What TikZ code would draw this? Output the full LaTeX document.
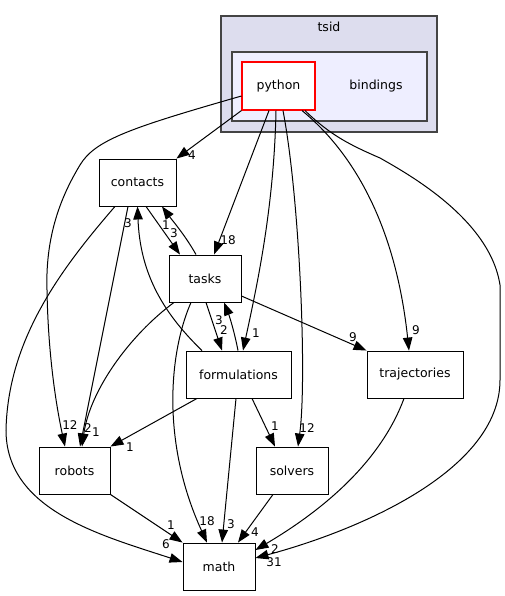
\documentclass[tikz,border=0pt]{standalone}
\usepackage{fontspec}
\setmainfont{DejaVu Sans}
\usetikzlibrary{arrows.meta}
\definecolor{outerfill}{HTML}{DDDDEE}
\definecolor{innerfill}{HTML}{EEEEFF}
\definecolor{frame}{HTML}{444444}
\tikzset{dr/.style = {rectangle, draw, fill=white, line width=0.9pt, minimum height=47pt, inner sep=0pt, font=\fontsize{12.5}{15}\selectfont},
         cur/.style = {dr, draw=red, line width=1.1pt, text=black},
         cl/.style = {rectangle, draw=frame, line width=1.4pt, inner sep=0pt},
         tx/.style = {inner sep=0pt, font=\fontsize{12.5}{15}\selectfont},
         lb/.style = {inner sep=0pt, font=\fontsize{12}{14}\selectfont}}

\begin{document}
\begin{tikzpicture}[x=1pt, y=-1pt, line width=1pt, >={Triangle[length=13pt, width=9.5pt]}]
    \useasboundingbox (0,0) rectangle (505,596);
    \node[cl, fill=outerfill, minimum width=216pt, minimum height=116pt] (tsid) at (329,74) {};
    \node[tx] (tsidtext) at (329,27) {tsid};
    \node[cl, fill=innerfill, minimum width=195pt, minimum height=69pt] (bindings) at (329.5,86.5) {};
    \node[tx] (bindingstext) at (376,86) {bindings};
    \node[cur, minimum width=73pt, minimum height=48pt] (python) at (278.5,86) {python};
    \node[dr, minimum width=77pt] (contacts) at (137.5,182.5) {contacts};
    \node[dr, minimum width=72pt] (tasks) at (205,278.5) {tasks};
    \node[dr, minimum width=105pt] (formulations) at (238.5,374.5) {formulations};
    \node[dr, minimum width=96pt] (trajectories) at (415,374.5) {trajectories};
    \node[dr, minimum width=71pt] (robots) at (74.5,470.5) {robots};
    \node[dr, minimum width=72pt] (solvers) at (292,470.5) {solvers};
    \node[dr, minimum width=72pt] (math) at (219,566.5) {math};
    \draw[->] (python.south west) -- (contacts.north east) node[lb] at (192,155) {4};
    \draw[->] ([yshift=-10pt]python.west) .. controls (130,128) and (95,140) .. (80,165) .. controls (65,190) and (45,230) .. (47,290) .. controls (48,350) and (55,400) .. ([xshift=-9.5pt]robots.north) node[lb] at (70,425) {12};
    \draw[->] ([xshift=-9.5pt]python.south) -- ([xshift=9pt]tasks.north) node[lb] at (228,240) {18};
    \draw[->] ([xshift=-2.5pt]python.south) .. controls (274,210) and (256,290) .. ([xshift=4.5pt]formulations.north) node[lb] at (256,333) {1};
    \draw[->] ([xshift=4.5pt]python.south) .. controls (300,200) and (307,380) .. ([xshift=6pt]solvers.north) node[lb] at (307,428) {12};
    \draw[->] ([xshift=23.5pt]python.south) .. controls (350,150) and (395,220) .. ([xshift=-6pt]trajectories.north) node[lb] at (416,330) {9};
    \draw[->] ([xshift=26.5pt]python.south) .. controls (330,135) and (350,145) .. (380,158) .. controls (410,175) and (490,220) .. (500,285) -- (500,380) .. controls (500,470) and (360,530) .. ([yshift=8.5pt]math.east) node[lb] at (274,562) {31};
    \draw[->] ([xshift=8.5pt]contacts.south) -- ([xshift=-25pt]tasks.north) node[lb] at (174,233) {3};
    \draw[->] ([xshift=-9pt]tasks.north) .. controls (185,235) and (172,220) .. ([xshift=24.5pt]contacts.south) node[lb] at (166,225) {1};
    \draw[->] ([xshift=-9.5pt]contacts.south) -- ([xshift=5.5pt]robots.north) node[lb] at (88,428) {2};
    \draw[->] ([xshift=-22.5pt]contacts.south) .. controls (60,270) and (8,340) .. (6,430) .. controls (6,510) and (100,535) .. ([yshift=4.5pt]math.west) node[lb] at (166,544) {6};
    \draw[->] ([xshift=-31pt]tasks.south) .. controls (130,335) and (90,390) .. ([xshift=7.5pt]robots.north) node[lb] at (96,432) {1};
    \draw[->] ([xshift=1pt]tasks.south) -- ([xshift=-16.5pt]formulations.north) node[lb] at (224,330) {2};
    \draw[->] ([xshift=-0.5pt]formulations.north) .. controls (234,330) and (229,315) .. ([xshift=19pt]tasks.south) node[lb] at (219,320) {3};
    \draw[->] ([yshift=-17.5pt]tasks.east) -- (trajectories.north west) node[lb] at (353,337) {9};
    \draw[->] ([xshift=-14pt]tasks.south) .. controls (170,350) and (160,440) .. ([xshift=-12pt]math.north) node[lb] at (207,521) {18};
    \draw[->] ([xshift=-36.5pt]formulations.north) .. controls (160,310) and (140,270) .. (contacts.south) node[lb] at (128,223) {3};
    \draw[->] ([xshift=-41.5pt]formulations.south) -- (robots.north east) node[lb] at (130,447) {1};
    \draw[->] ([xshift=-2.5pt]formulations.south) -- ([xshift=3pt]math.north) node[lb] at (231,524) {3};
    \draw[->] ([xshift=13.5pt]formulations.south) -- ([xshift=-17pt]solvers.north) node[lb] at (275,426) {1};
    \draw[->] (robots.south east) -- (math.north west) node[lb] at (171,525) {1};
    \draw[->] ([xshift=-19pt]solvers.south) -- ([xshift=19pt]math.north) node[lb] at (255,532) {4};
    \draw[->] ([xshift=-11pt]trajectories.south) .. controls (385,450) and (340,500) .. ([yshift=16.5pt]math.east) node[lb] at (275,549) {2};
\end{tikzpicture}
\end{document}
